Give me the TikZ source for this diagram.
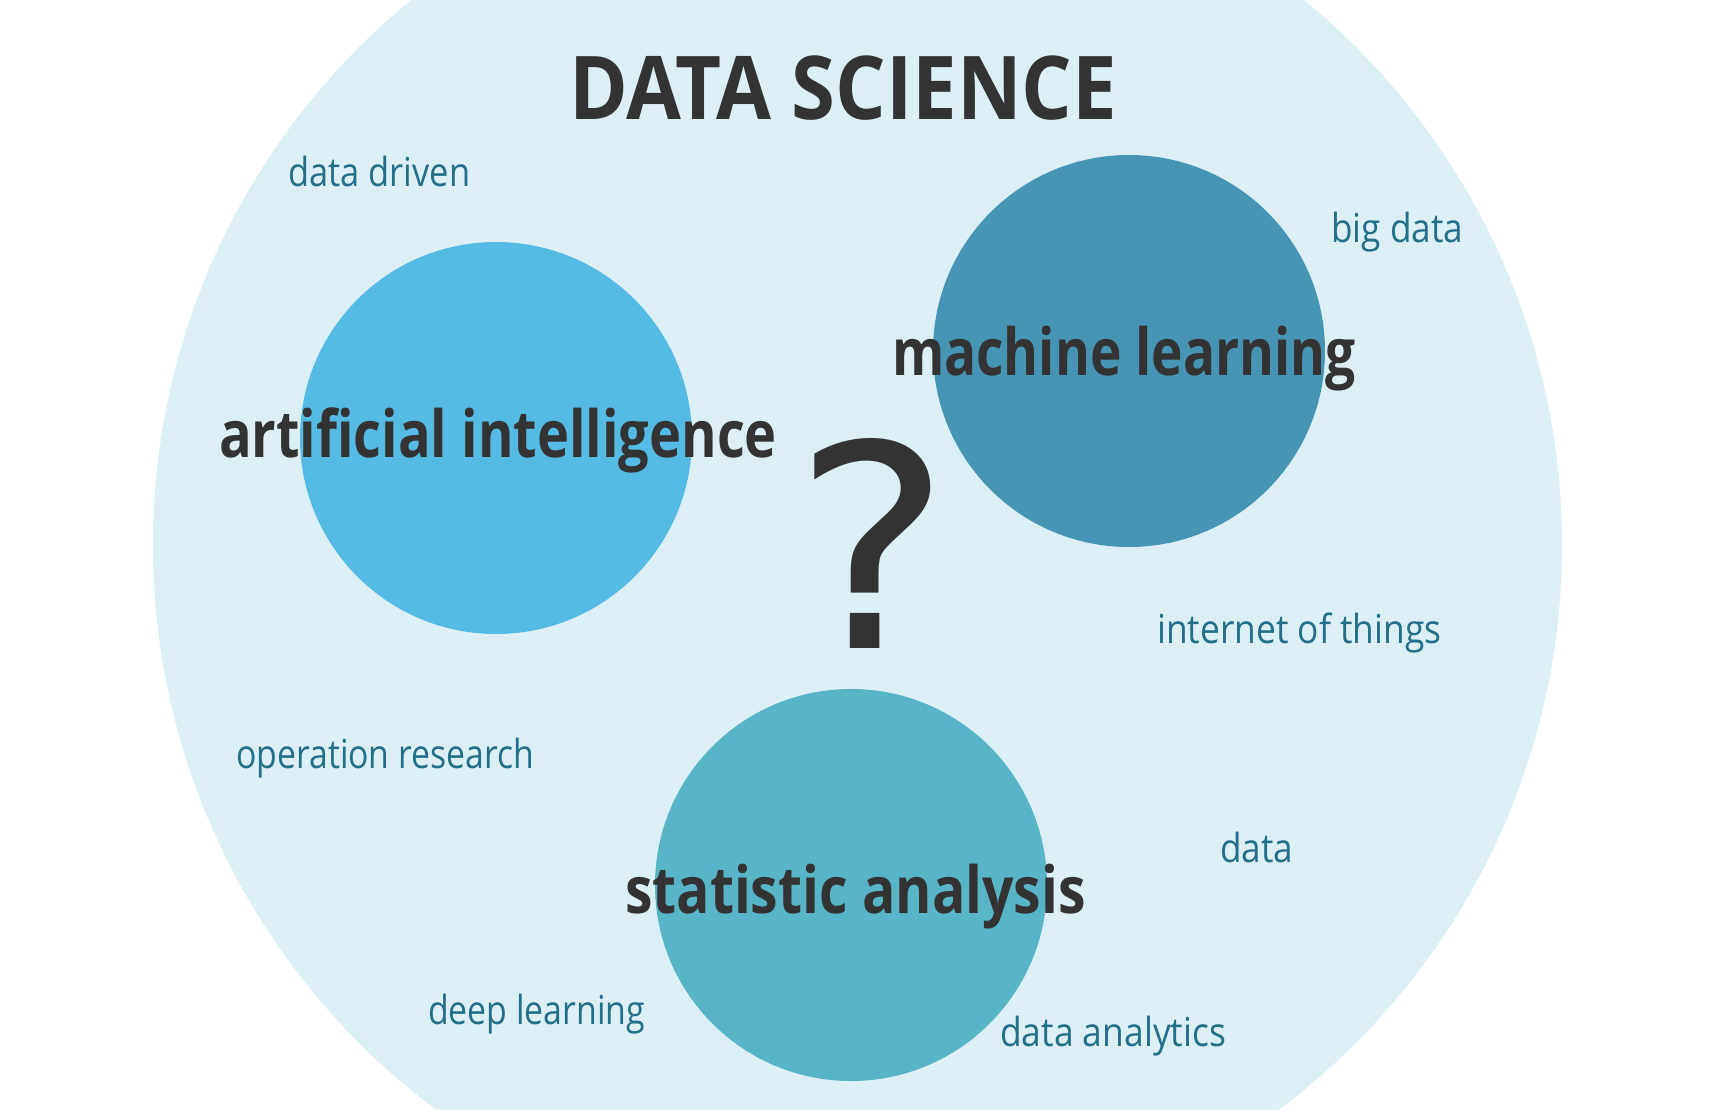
\documentclass[tikz,border=0pt]{standalone}
\usepackage{fontspec}
\usepackage{graphicx}
\setmainfont{Open Sans}
\newfontfamily\qfont{DejaVu Sans}
\definecolor{bgc}{HTML}{DCEFF5}
\definecolor{aic}{HTML}{55BAE4}
\definecolor{mlc}{HTML}{4795B5}
\definecolor{sac}{HTML}{57B5C7}
\definecolor{darkc}{HTML}{333333}
\definecolor{smallc}{HTML}{226F8A}
\newsavebox\fitbox
\newcommand\fitto[2]{\sbox\fitbox{#2}\pgfmathsetmacro\fitsx{#1/\the\wd\fitbox}\scalebox{\fitsx}[1]{\usebox\fitbox}}
\tikzset{
  blob/.style={circle, inner sep=0pt, minimum size=392pt, draw=none},
  smalltxt/.style={font=\fontsize{40}{40}\selectfont, text=smallc, anchor=base west, inner sep=0pt},
  bigtxt/.style={font=\bfseries\fontsize{65}{65}\selectfont, text=darkc, anchor=base, inner sep=0pt},
  titletxt/.style={font=\bfseries\fontsize{88}{88}\selectfont, text=darkc, anchor=base, inner sep=0pt},
  qtxt/.style={font=\qfont\fontsize{283}{283}\selectfont, text=darkc, anchor=base, inner sep=0pt}
}
\begin{document}
\begin{tikzpicture}[x=1pt,y=-1pt]
\useasboundingbox (0,0) rectangle (1722,1109);
\clip (0,0) rectangle (1722,1109);
\fill[white] (0,0) rectangle (1722,1109);
\node[circle, inner sep=0pt, minimum size=1409pt, fill=bgc] (ds) at (857.5,545) {};
\node[blob, fill=aic] (ai) at (496,438) {};
\node[blob, fill=mlc] (ml) at (1129,351) {};
\node[blob, fill=sac] (sa) at (851,885) {};
\node[titletxt] (title) at (843,119) {\fitto{548}{DATA SCIENCE}};
\node[bigtxt] (ailab) at (498,457) {\fitto{558}{artificial intelligence}};
\node[bigtxt] (mllab) at (1124,375) {\fitto{464}{machine learning}};
\node[bigtxt] (salab) at (855.5,913) {\fitto{461}{statistic analysis}};
\node[qtxt] (q) at (872,648) {\fitto{158}{?}};
\node[smalltxt] (t1) at (288,186) {\fitto{182}{data driven}};
\node[smalltxt] (t2) at (1331,242) {\fitto{132}{big data}};
\node[smalltxt] (t3) at (1157,643) {\fitto{284}{internet of things}};
\node[smalltxt] (t4) at (236,768) {\fitto{298}{operation research}};
\node[smalltxt] (t5) at (1220,862) {\fitto{73}{data}};
\node[smalltxt] (t6) at (428,1024) {\fitto{217}{deep learning}};
\node[smalltxt] (t7) at (1000,1046) {\fitto{226}{data analytics}};
\end{tikzpicture}
\end{document}
